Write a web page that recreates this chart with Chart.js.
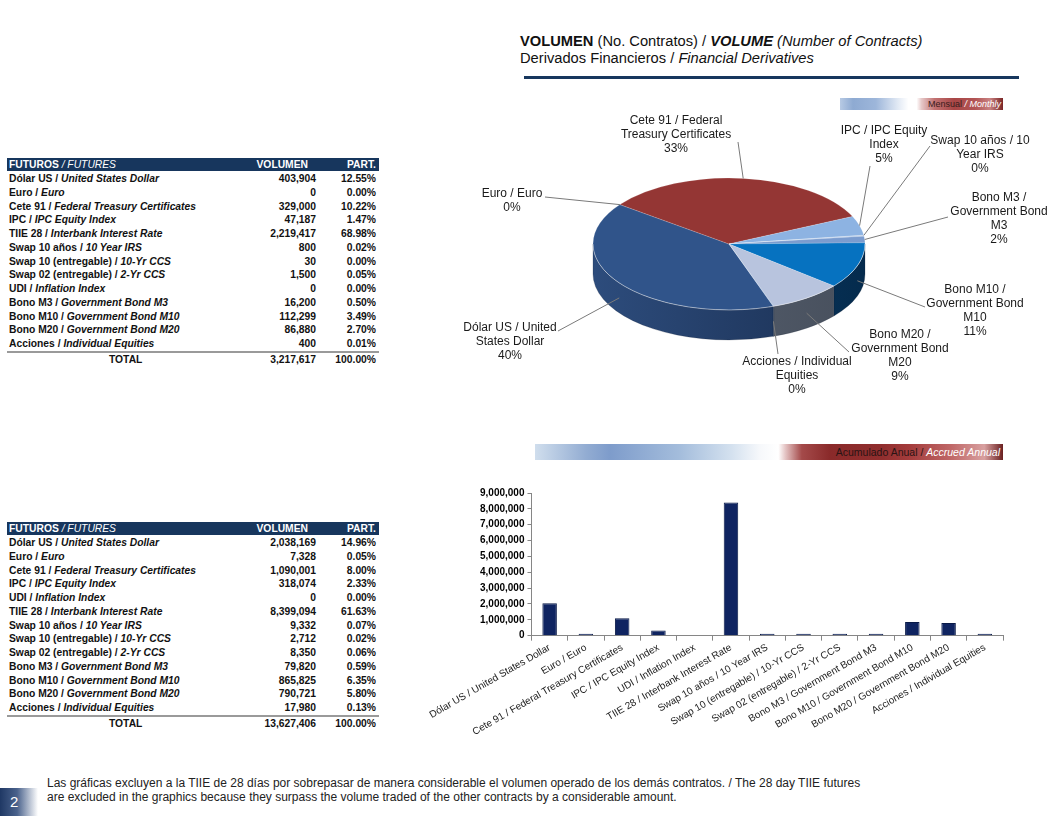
<!DOCTYPE html>
<html>
<head>
<meta charset="utf-8">
<script src="https://cdn.jsdelivr.net/npm/chart.js@4.4.1/dist/chart.umd.min.js"></script>
<style>
  html, body { margin: 0; padding: 0; background: #fff; }
  body { width: 1054px; height: 816px; position: relative; overflow: hidden; font-family: "Liberation Sans", Arial, sans-serif; color: #111; }
  .abs { position: absolute; white-space: nowrap; }
  .title { left: 520px; top: 33px; font-size: 14.7px; line-height: 17px; }
  .rule { left: 524px; top: 76px; width: 495px; height: 3px; background: #17375e; }
  .band { position: absolute; box-sizing: border-box; text-align: right; white-space: nowrap; }
  .band .w { color: #fff; font-style: italic; }
  .tbl { position: absolute; left: 7px; width: 372px; font-size: 10.3px; font-weight: bold; color: #111; }
  .tbl .row { position: relative; height: 13.75px; line-height: 13.75px; white-space: nowrap; }
  .tbl .hd { height: 13px; line-height: 13px; background: #17365d; color: #fff; margin-bottom: 1px; }
  .tbl .c1 { position: absolute; left: 2px; }
  .tbl .c2 { position: absolute; right: 63px; }
  .tbl .hd .c2 { right: 71px; }
  .tbl .c3 { position: absolute; right: 3px; }
  .tbl .sep { height: 0; border-top: 2px solid #9a9a9a; }
  .tbl .tot { height: 14px; line-height: 14px; }
  .tbl i { font-style: italic; }
  .hd i { font-weight: normal; }
  .note { left: 47px; top: 776px; font-size: 12px; line-height: 14px; color: #222; }
  .pg { left: 0; top: 788px; width: 38px; height: 28px; background: linear-gradient(to right, #1f3864 0%, #4a628c 45%, #ffffff 100%); color: #fff; font-size: 15px; line-height: 28px; padding-left: 10px; box-sizing: border-box; }
  canvas { position: absolute; }
</style>
</head>
<body>

<div class="abs title"><b>VOLUMEN</b> (No. Contratos) / <b><i>VOLUME</i></b> <i>(Number of Contracts)</i><br>Derivados Financieros / <i>Financial Derivatives</i></div>
<div class="abs rule"></div>

<div class="band" style="left:840px;top:98px;width:163px;height:12px;font-size:9px;line-height:12px;padding-right:2px;background:linear-gradient(to right,#b7cae4 0%,#8eaad2 8%,#9db6da 22%,#e4ebf5 36%,#ffffff 42%,#ffffff 47%,#e6c8c8 50%,#c27272 58%,#a84646 70%,#b25454 83%,#c98282 92%,#7a2525 100%);">
  <span style="color:#3a1c1c">Mensual</span> <span class="w">/ Monthly</span>
</div>
<div class="band" style="left:535px;top:444px;width:468px;height:16px;font-size:10.5px;line-height:16px;padding-right:3px;background:linear-gradient(to right,#d0deed 0%,#92acd2 11%,#7e9ccb 16%,#a4bddc 31%,#d4e1ef 42%,#f6f8fb 48%,#ffffff 52%,#e4c4c4 53.5%,#a44a4a 57%,#8a2a2a 63%,#902e2e 74%,#a43c3c 80%,#c06868 89%,#d8a0a0 96%,#6a2020 100%);">
  <span style="color:#2a1414">Acumulado Anual /</span> <span class="w">Accrued Annual</span>
</div>

<div id="tblMonth" class="tbl" style="top:158px"></div>
<div id="tblYear" class="tbl" style="top:522px"></div>

<canvas id="chartPie" width="614" height="320" style="left:440px;top:90px;width:614px;height:320px"></canvas>
<canvas id="chartBar" width="620" height="285" style="left:400px;top:470px;width:620px;height:285px"></canvas>

<div class="abs note">Las gráficas excluyen a la TIIE de 28 días por sobrepasar de manera considerable el volumen operado de los demás contratos. / The 28 day TIIE futures<br>are excluded in the graphics because they surpass the volume traded of the other contracts by a considerable amount.</div>
<div class="abs pg">2</div>

<script>
/* Mensual (top table, pie) */
var monthNames = ['Dólar US', 'Euro', 'Cete 91', 'IPC', 'TIIE 28', 'Swap 10 años', 'Swap 10 (entregable)', 'Swap 02 (entregable)', 'UDI', 'Bono M3', 'Bono M10', 'Bono M20', 'Acciones'];
var monthNamesEn = ['United States Dollar', 'Euro', 'Federal Treasury Certificates', 'IPC Equity Index', 'Interbank Interest Rate', '10 Year IRS', '10-Yr CCS', '2-Yr CCS', 'Inflation Index', 'Government Bond M3', 'Government Bond M10', 'Government Bond M20', 'Individual Equities'];
var monthVolume = [403904, 0, 329000, 47187, 2219417, 800, 30, 1500, 0, 16200, 112299, 86880, 400];
var monthPart = [12.55, 0.00, 10.22, 1.47, 68.98, 0.02, 0.00, 0.05, 0.00, 0.50, 3.49, 2.70, 0.01];
var monthTotal = 3217617;

/* Acumulado anual (bottom table, bars) */
var yearNames = ['Dólar US', 'Euro', 'Cete 91', 'IPC', 'UDI', 'TIIE 28', 'Swap 10 años', 'Swap 10 (entregable)', 'Swap 02 (entregable)', 'Bono M3', 'Bono M10', 'Bono M20', 'Acciones'];
var yearNamesEn = ['United States Dollar', 'Euro', 'Federal Treasury Certificates', 'IPC Equity Index', 'Inflation Index', 'Interbank Interest Rate', '10 Year IRS', '10-Yr CCS', '2-Yr CCS', 'Government Bond M3', 'Government Bond M10', 'Government Bond M20', 'Individual Equities'];
var yearVolume = [2038169, 7328, 1090001, 318074, 0, 8399094, 9332, 2712, 8350, 79820, 865825, 790721, 17980];
var yearPart = [14.96, 0.05, 8.00, 2.33, 0.00, 61.63, 0.07, 0.02, 0.06, 0.59, 6.35, 5.80, 0.13];
var yearTotal = 13627406;

/* Bar axis ticks */
var barTicksMax = 9000000, barTickStep = 1000000;

function fmt(n) { return n.toLocaleString('en-US'); }

/* Tables */
function buildTable(el, names, namesEn, vol, part, total) {
  var h = '<div class="row hd"><span class="c1">FUTUROS <i>/ FUTURES</i></span><span class="c2">VOLUMEN</span><span class="c3">PART.</span></div>';
  names.forEach(function (n, i) {
    h += '<div class="row"><span class="c1">' + n + ' / <i>' + namesEn[i] + '</i></span><span class="c2">' + fmt(vol[i]) + '</span><span class="c3">' + part[i].toFixed(2) + '%</span></div>';
  });
  h += '<div class="sep"></div>';
  h += '<div class="row tot"><span class="c1" style="left:102px">TOTAL</span><span class="c2">' + fmt(total) + '</span><span class="c3">100.00%</span></div>';
  el.innerHTML = h;
}
buildTable(document.getElementById('tblMonth'), monthNames, monthNamesEn, monthVolume, monthPart, monthTotal);
buildTable(document.getElementById('tblYear'), yearNames, yearNamesEn, yearVolume, yearPart, yearTotal);

/* Pie — monthly, TIIE excluded */
(function () {
  var pieNames = [], pieValues = [];
  monthNames.forEach(function (n, i) {
    if (n === 'TIIE 28') return;
    pieNames.push(n); pieValues.push(monthVolume[i]);
  });
  var pieSum = pieValues.reduce(function (a, b) { return a + b; }, 0);

  var TILT = 0.485, DEPTH = 30, PX = 440, PY = 90;
  var topColor = {
    'Dólar US': '#30548a', 'Euro': '#943634', 'Cete 91': '#943634', 'IPC': '#8db3e2',
    'Swap 10 años': '#6f93c8', 'Swap 10 (entregable)': '#6f93c8', 'Swap 02 (entregable)': '#9ab8e0',
    'UDI': '#9ab8e0', 'Bono M3': '#7b9ccf', 'Bono M10': '#0672c0', 'Bono M20': '#b8c4de', 'Acciones': '#4f81bd'
  };
  var sideColor = {
    'Dólar US': ['#2d4c7c', '#1a2f52'], 'Bono M10': ['#0a4473', '#052b4d'], 'Bono M20': ['#5a6474', '#474f5c'],
    'Acciones': ['#3b5f8e', '#2b4a70'], 'Cete 91': ['#7a2a28', '#5e1f1e'], 'Euro': ['#7a2a28', '#5e1f1e']
  };
  /* label text lines and anchor (page coords) */
  var pieLabelLayout = {
    'Dólar US': { lines: ['Dólar US / United', 'States Dollar'], cx: 510, top: 328, lx: 558, ly: 331 },
    'Euro': { lines: ['Euro / Euro'], cx: 512, top: 194, lx: 545, ly: 197 },
    'Cete 91': { lines: ['Cete 91 / Federal', 'Treasury Certificates'], cx: 676, top: 121, lx: 738, ly: 142 },
    'IPC': { lines: ['IPC / IPC Equity', 'Index'], cx: 884, top: 131, lx: 870, ly: 166 },
    'Swap 10 años': { lines: ['Swap 10 años / 10', 'Year IRS'], cx: 980, top: 141, lx: 930, ly: 146 },
    'Bono M3': { lines: ['Bono M3 /', 'Government Bond', 'M3'], cx: 999, top: 198, lx: 948, ly: 217 },
    'Bono M10': { lines: ['Bono M10 /', 'Government Bond', 'M10'], cx: 975, top: 290, lx: 925, ly: 307 },
    'Bono M20': { lines: ['Bono M20 /', 'Government Bond', 'M20'], cx: 900, top: 335, lx: 849, ly: 352 },
    'Acciones': { lines: ['Acciones / Individual', 'Equities'], cx: 797, top: 362, lx: 778, ly: 354 }
  };

  var pie3d = {
    id: 'pie3d',
    beforeDatasetsDraw: function (chart) {
      var ctx = chart.ctx, arcs = chart.getDatasetMeta(0).data;
      var cx = arcs[0].x, cy = arcs[0].y, r = arcs[0].outerRadius, ry = r * TILT;
      ctx.save();
      /* side walls, front half only */
      arcs.forEach(function (arc, i) {
        var sc = sideColor[pieNames[i]] || ['#3c5f90', '#2a4670'];
        for (var k = -1; k <= 2; k++) {
          var s = Math.max(arc.startAngle, 2 * Math.PI * k), e = Math.min(arc.endAngle, 2 * Math.PI * k + Math.PI);
          if (e <= s) continue;
          var g = ctx.createLinearGradient(cx - r, 0, cx + r, 0);
          g.addColorStop(0, sc[0]); g.addColorStop(1, sc[1]);
          ctx.beginPath();
          ctx.ellipse(cx, cy, r, ry, 0, s, e);
          ctx.ellipse(cx, cy + DEPTH, r, ry, 0, e, s, true);
          ctx.closePath();
          ctx.fillStyle = g;
          ctx.fill();
          ctx.strokeStyle = 'rgba(20,30,50,0.35)';
          ctx.lineWidth = 0.6;
          ctx.stroke();
        }
      });
      ctx.restore();
      /* squash the top face */
      ctx.save();
      ctx.translate(cx, cy);
      ctx.scale(1, TILT);
      ctx.translate(-cx, -cy);
    },
    afterDatasetsDraw: function (chart) {
      var ctx = chart.ctx;
      ctx.restore();
      var a = chart.getDatasetMeta(0).data[0];
      ctx.save();
      ctx.strokeStyle = 'rgba(255,255,255,0.45)';
      ctx.lineWidth = 0.8;
      ctx.beginPath();
      ctx.ellipse(a.x, a.y, a.outerRadius, a.outerRadius * TILT, 0, 0, Math.PI);
      ctx.stroke();
      ctx.restore();
    },
    afterDraw: function (chart) {
      var ctx = chart.ctx, arcs = chart.getDatasetMeta(0).data;
      var cx = arcs[0].x, cy = arcs[0].y, r = arcs[0].outerRadius;
      ctx.save();
      ctx.font = '12px "Liberation Sans", Arial, sans-serif';
      ctx.textAlign = 'center';
      ctx.textBaseline = 'middle';
      arcs.forEach(function (arc, i) {
        var L = pieLabelLayout[pieNames[i]];
        if (!L) return;
        var mid = (arc.startAngle + arc.endAngle) / 2;
        var ex = cx + r * Math.cos(mid), ey = cy + r * TILT * Math.sin(mid) + (Math.sin(mid) > 0.05 ? DEPTH * 0.5 : 0);
        ctx.strokeStyle = '#7a7a7a';
        ctx.lineWidth = 1;
        ctx.beginPath();
        ctx.moveTo(L.lx - PX, L.ly - PY);
        ctx.lineTo(ex, ey);
        ctx.stroke();
        var lines = L.lines.concat([Math.round(pieValues[i] / pieSum * 100) + '%']);
        ctx.fillStyle = '#1a1a1a';
        lines.forEach(function (t, j) { ctx.fillText(t, L.cx - PX, L.top - PY + j * 14); });
      });
      ctx.restore();
    }
  };

  new Chart(document.getElementById('chartPie'), {
    type: 'pie',
    data: {
      labels: pieNames,
      datasets: [{
        data: pieValues,
        backgroundColor: pieNames.map(function (n) { return topColor[n]; }),
        borderColor: 'rgba(255,255,255,0.35)',
        borderWidth: 0.6
      }]
    },
    options: {
      responsive: false,
      animation: false,
      rotation: 161,
      radius: 136,
      layout: { padding: { left: 153, right: 189, top: 18, bottom: 30 } },
      plugins: { legend: { display: false }, tooltip: { enabled: false } }
    },
    plugins: [pie3d]
  });
})();

/* Bars — accrued annual */
(function () {
  var barLabels = yearNames.map(function (n, i) { return n + ' / ' + yearNamesEn[i]; });
  /* zero volume draws no bar at all */
  var barValues = yearVolume.map(function (v) { return v === 0 ? null : v; });
  new Chart(document.getElementById('chartBar'), {
    type: 'bar',
    data: {
      labels: barLabels,
      datasets: [{ data: barValues, backgroundColor: '#0f2461', borderColor: '#091a48', borderWidth: 1, barPercentage: 0.4, categoryPercentage: 1, minBarLength: 2 }]
    },
    options: {
      responsive: false,
      animation: false,
      layout: { padding: { left: 77, right: 17, top: 23, bottom: 16 } },
      plugins: { legend: { display: false }, tooltip: { enabled: false } },
      scales: {
        y: {
          min: 0, max: barTicksMax,
          border: { color: '#868686' },
          grid: { drawOnChartArea: false, tickLength: 4, color: '#868686' },
          ticks: { stepSize: barTickStep, color: '#000', padding: 3, font: { family: '"Liberation Sans", Arial', size: 10, weight: 'bold' }, callback: function (v) { return fmt(v); } }
        },
        x: {
          border: { color: '#868686' },
          grid: { drawOnChartArea: false, tickLength: 5, color: '#868686', offset: true },
          ticks: { autoSkip: false, maxRotation: 30, minRotation: 30, color: '#222', padding: 1, font: { family: '"Liberation Sans", Arial', size: 10 } }
        }
      }
    }
  });
})();
</script>
</body>
</html>
